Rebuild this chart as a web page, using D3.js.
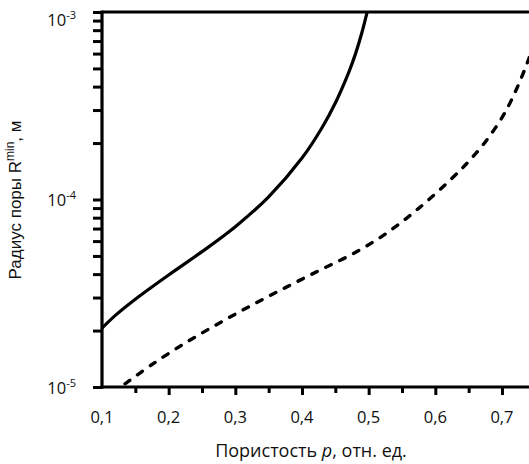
<!DOCTYPE html>
<html>
<head>
<meta charset="utf-8">
<script src="https://cdn.jsdelivr.net/npm/d3@7/dist/d3.min.js"></script>
<style>
  html, body { margin: 0; padding: 0; background: #fff; }
  svg { display: block; }
</style>
</head>
<body>
<svg id="chart" width="529" height="464"></svg>
<script>
// Porosity (relative units) and minimal pore radius (m), solid curve
const solidP = [0.10, 0.12, 0.15, 0.20, 0.25, 0.30, 0.35, 0.40, 0.43, 0.45, 0.47, 0.48, 0.49, 0.50];
const solidR = [2.06e-5, 2.41e-5, 2.94e-5, 3.96e-5, 5.27e-5, 7.16e-5, 1.033e-4, 1.663e-4, 2.415e-4, 3.273e-4, 4.753e-4, 5.943e-4, 7.798e-4, 1.076e-3];

// Dashed curve
const dashP = [0.1345, 0.175, 0.225, 0.275, 0.325, 0.375, 0.425, 0.475, 0.525, 0.575, 0.625, 0.65, 0.675, 0.70, 0.715, 0.73, 0.74, 0.75];
const dashR = [1.04e-5, 1.318e-5, 1.718e-5, 2.183e-5, 2.735e-5, 3.388e-5, 4.169e-5, 5.105e-5, 6.54e-5, 8.97e-5, 1.297e-4, 1.596e-4, 2.028e-4, 2.735e-4, 3.436e-4, 4.539e-4, 5.598e-4, 6.982e-4];

// Axis ticks
const xMajorTicks = [0.2, 0.3, 0.4, 0.5, 0.6, 0.7];
const xMinorTicks = [0.15, 0.25, 0.35, 0.45, 0.55, 0.65];
const xTickLabels = ["0,1", "0,2", "0,3", "0,4", "0,5", "0,6", "0,7"];
const xLabelValues = [0.1, 0.2, 0.3, 0.4, 0.5, 0.6, 0.7];
const yDecades = [1e-5, 1e-4, 1e-3];
const yDecadeExp = ["-5", "-4", "-3"];

const svg = d3.select("#chart");
const plotL = 102, plotR = 535.3, plotT = 12, plotB = 387;

const x = d3.scaleLinear().domain([0.1, 0.75]).range([plotL, plotR]);
const y = d3.scaleLog().domain([1e-5, 1e-3]).range([plotB, plotT]);

// Clip region for the curves
svg.append("defs").append("clipPath").attr("id", "plot")
  .append("rect").attr("x", plotL).attr("y", plotT).attr("width", plotR - plotL).attr("height", plotB - plotT);

// Y minor ticks (2..9 within each decade) and decade ticks
const yAllTicks = [];
for (let e = -5; e < -3; e++) {
  for (let m = 1; m <= 9; m++) yAllTicks.push(m * Math.pow(10, e));
}
yAllTicks.push(1e-3);

const yAxis = d3.axisLeft(y).tickValues(yAllTicks).tickSize(9).tickFormat("");
const gy = svg.append("g").attr("transform", `translate(${plotL},0)`).call(yAxis);
gy.select(".domain").remove();
gy.selectAll(".tick line").attr("stroke", "#000").attr("stroke-width", 3);

// X ticks
const xMinor = d3.axisBottom(x).tickValues(xMinorTicks).tickSize(6).tickFormat("");
const gxm = svg.append("g").attr("transform", `translate(0,${plotB})`).call(xMinor);
gxm.select(".domain").remove();
gxm.selectAll(".tick line").attr("stroke", "#000").attr("stroke-width", 3);

const xMajor = d3.axisBottom(x).tickValues(xMajorTicks).tickSize(8).tickFormat("");
const gxM = svg.append("g").attr("transform", `translate(0,${plotB})`).call(xMajor);
gxM.select(".domain").remove();
gxM.selectAll(".tick line").attr("stroke", "#000").attr("stroke-width", 3);

// X tick labels
const xl = svg.append("g").attr("font-family", "Open Sans, Noto Sans, sans-serif").attr("font-size", 16.5).attr("fill", "#111");
xl.selectAll("text").data(xLabelValues).join("text")
  .attr("x", d => x(d))
  .attr("y", 423)
  .attr("text-anchor", "middle")
  .text((d, i) => xTickLabels[i]);

// Y decade labels with superscript exponent
const yShift = [1, 0, 8];
const yl = svg.append("g").attr("font-family", "Open Sans, Noto Sans, sans-serif").attr("fill", "#111");
yDecades.forEach((d, i) => {
  const t = yl.append("text")
    .attr("x", 76)
    .attr("y", y(d) + 6 + yShift[i])
    .attr("text-anchor", "end")
    .attr("font-size", 16.5);
  t.append("tspan").text("10");
  t.append("tspan").attr("font-size", 11).attr("dy", -7).text(yDecadeExp[i]);
});

// Frame: left axis, bottom axis, top border
const frame = svg.append("g").attr("stroke", "#000").attr("stroke-width", 3.2).attr("fill", "none");
frame.append("line").attr("x1", plotL).attr("x2", plotL).attr("y1", plotT - 1.6).attr("y2", plotB + 1.6);
frame.append("line").attr("x1", plotL).attr("x2", 529).attr("y1", plotB).attr("y2", plotB);
frame.append("line").attr("x1", plotL).attr("x2", 529).attr("y1", plotT).attr("y2", plotT);

// Curves
const line = d3.line().x(d => x(d[0])).y(d => y(d[1])).curve(d3.curveCatmullRom.alpha(0.5));
const curves = svg.append("g").attr("clip-path", "url(#plot)").attr("fill", "none").attr("stroke", "#000");

curves.append("path")
  .datum(solidP.map((p, i) => [p, solidR[i]]))
  .attr("d", line)
  .attr("stroke-width", 3.2);

curves.append("path")
  .datum(dashP.map((p, i) => [p, dashR[i]]))
  .attr("d", line)
  .attr("stroke-width", 3.4)
  .attr("stroke-linecap", "round")
  .attr("stroke-dasharray", "6,9.5");

// Axis titles
svg.append("text")
  .attr("x", 311)
  .attr("y", 457)
  .attr("text-anchor", "middle")
  .attr("font-family", "Open Sans, Noto Sans, sans-serif")
  .attr("font-size", 18)
  .attr("fill", "#111")
  .call(t => {
    t.append("tspan").text("Пористость ");
    t.append("tspan").attr("font-style", "italic").text("p");
    t.append("tspan").text(", отн. ед.");
  });

svg.append("text")
  .attr("transform", "translate(21,200) rotate(-90)")
  .attr("text-anchor", "middle")
  .attr("font-family", "Liberation Sans, Arial, sans-serif")
  .attr("font-size", 17)
  .attr("fill", "#111")
  .call(t => {
    t.append("tspan").text("Радиус поры R");
    t.append("tspan").attr("font-size", 12).attr("dy", -7).text("min");
    t.append("tspan").attr("dy", 7).text(", м");
  });
</script>
</body>
</html>
